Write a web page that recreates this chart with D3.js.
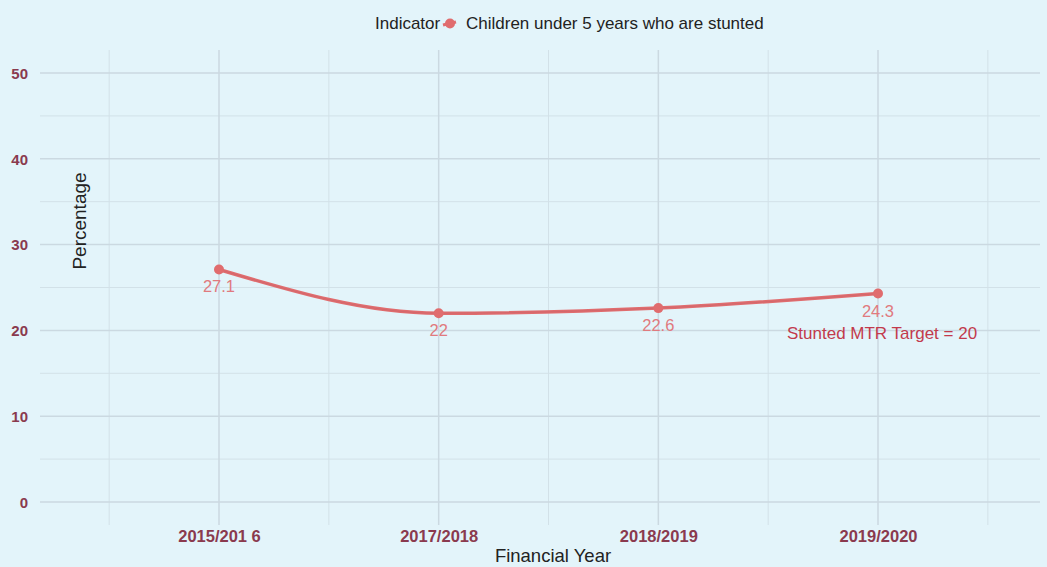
<!DOCTYPE html>
<html><head><meta charset="utf-8">
<script src="https://cdn.jsdelivr.net/npm/d3@7"></script>
<style>body{margin:0;background:#e3f4fa;} svg{display:block;font-family:"Liberation Sans",Arial,sans-serif;}</style>
</head><body><svg id="c" width="1047" height="567"></svg>
<script>
const categories = ["2015/201 6", "2017/2018", "2018/2019", "2019/2020"];
const values = [27.1, 22, 22.6, 24.3];
const valueLabels = ["27.1", "22", "22.6", "24.3"];
const yTicks = [0, 10, 20, 30, 40, 50];
const yMinor = [5, 15, 25, 35, 45];
const seriesName = "Children under 5 years who are stunted";
const legendTitle = "Indicator";
const targetLabel = "Stunted MTR Target = 20";

const svg = d3.select("#c");
const W = 1047, H = 567;
svg.append("rect").attr("width", W).attr("height", H).attr("fill", "#e3f4fa");

const x = d3.scalePoint().domain(categories).range([219, 878]);
const step = x.step();
const y = d3.scaleLinear().domain([0, 50]).range([502, 73]);
const panelL = 40, panelR = 1040, panelT = 50, panelB = 525;

const grid = svg.append("g");
yMinor.forEach(v => grid.append("line").attr("x1", panelL).attr("x2", panelR).attr("y1", y(v)).attr("y2", y(v)).attr("stroke", "#d2e1e8").attr("stroke-width", 1));
const minorX = [x(categories[0]) - step / 2].concat(categories.map(c => x(c) + step / 2));
minorX.forEach(v => grid.append("line").attr("x1", v).attr("x2", v).attr("y1", panelT).attr("y2", panelB).attr("stroke", "#d2e1e8").attr("stroke-width", 1));
yTicks.forEach(v => grid.append("line").attr("x1", panelL).attr("x2", panelR).attr("y1", y(v)).attr("y2", y(v)).attr("stroke", "#cbd9e1").attr("stroke-width", 1.5));
categories.forEach(c => grid.append("line").attr("x1", x(c)).attr("x2", x(c)).attr("y1", panelT).attr("y2", panelB).attr("stroke", "#cbd9e1").attr("stroke-width", 1.5));

const yAxis = d3.axisLeft(y).tickValues(yTicks).tickSize(0).tickPadding(0);
const ya = svg.append("g").attr("transform", "translate(28,0)").call(yAxis);
ya.select(".domain").remove();
ya.selectAll("text").attr("fill", "#8a3a4e").attr("font-size", 15).attr("font-weight", "bold").attr("dy", "0.35em").attr("font-family", "Liberation Sans, Arial, sans-serif");

const xAxis = d3.axisBottom(x).tickSize(0).tickPadding(0);
const xa = svg.append("g").attr("transform", "translate(0,530)").call(xAxis);
xa.select(".domain").remove();
xa.selectAll("text").attr("fill", "#8a3a4e").attr("font-size", 16.5).attr("font-weight", "bold").attr("dy", "0.71em").attr("font-family", "Liberation Sans, Arial, sans-serif");

svg.append("text").attr("x", 553).attr("y", 562).attr("text-anchor", "middle").attr("font-size", 18.5).attr("fill", "#222").text("Financial Year");
svg.append("text").attr("transform", "translate(86,221) rotate(-90)").attr("text-anchor", "middle").attr("font-size", 19).attr("fill", "#222").text("Percentage");

const color = "#e06c6e";
const data = categories.map((c, i) => ({c, v: values[i], l: valueLabels[i]}));
const line = d3.line().x(d => x(d.c)).y(d => y(d.v)).curve(d3.curveMonotoneX);
svg.append("path").datum(data).attr("d", line).attr("fill", "none").attr("stroke", color).attr("stroke-width", 3.5);
svg.append("path").datum(data).attr("d", line).attr("fill", "none").attr("stroke", "#c9646a").attr("stroke-width", 1).attr("opacity", 0.6);
svg.selectAll("circle.pt").data(data).join("circle").attr("class", "pt").attr("cx", d => x(d.c)).attr("cy", d => y(d.v)).attr("r", 5).attr("fill", color);
svg.selectAll("text.vl").data(data).join("text").attr("class", "vl").attr("x", d => x(d.c)).attr("y", d => y(d.v) + 23).attr("text-anchor", "middle").attr("font-size", 16.5).attr("fill", "#e07a7e").text(d => d.l);

svg.append("text").attr("x", 787).attr("y", y(20) + 9).attr("font-size", 17).attr("fill", "#c23a4c").text(targetLabel);

svg.append("text").attr("x", 375).attr("y", 29).attr("font-size", 17).attr("fill", "#222").text(legendTitle);
svg.append("line").attr("x1", 443).attr("x2", 456).attr("y1", 25).attr("y2", 22).attr("stroke", color).attr("stroke-width", 3);
svg.append("circle").attr("cx", 450).attr("cy", 23.5).attr("r", 5).attr("fill", color);
svg.append("text").attr("x", 466).attr("y", 29).attr("font-size", 17).attr("fill", "#222").text(seriesName);
</script></body></html>
